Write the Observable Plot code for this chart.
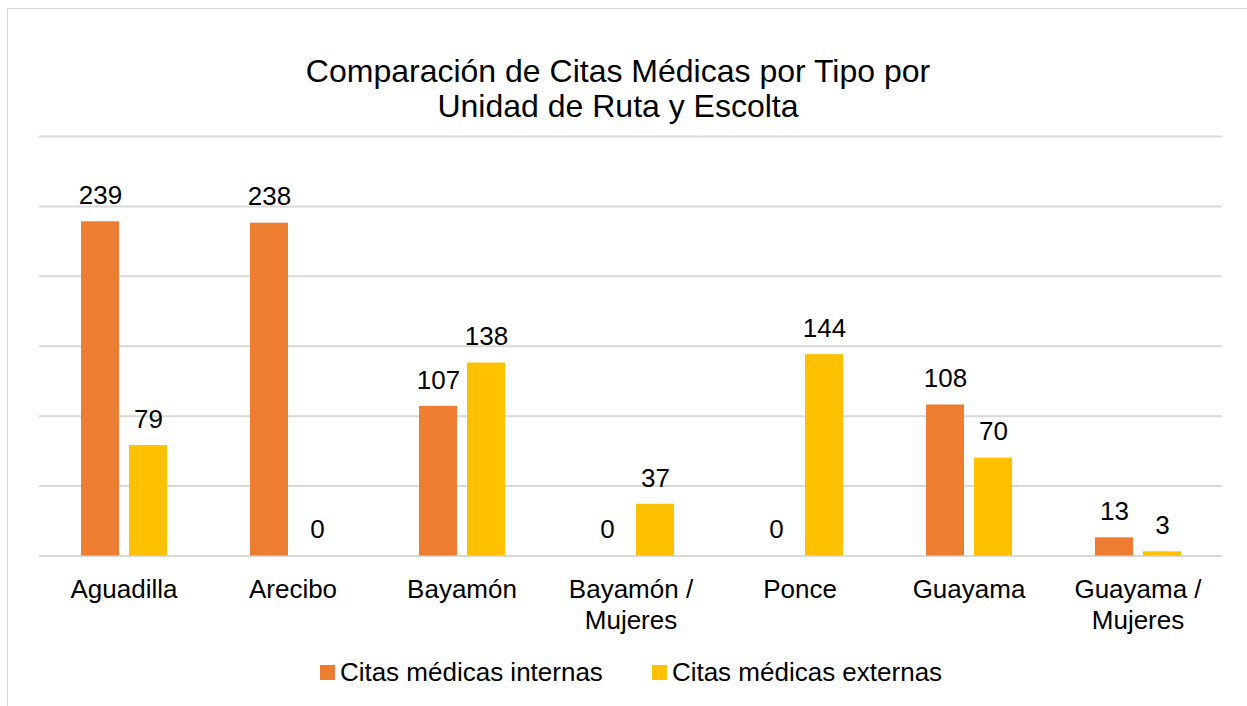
<!DOCTYPE html>
<html>
<head>
<meta charset="utf-8">
<script src="https://cdn.jsdelivr.net/npm/d3@7"></script>
<script src="https://cdn.jsdelivr.net/npm/@observablehq/plot@0.6"></script>
<style>
  body { margin: 0; background: #fff; font-family: "Liberation Sans", Arial, sans-serif; }
  #wrap { position: relative; width: 1247px; height: 706px; overflow: hidden; background: #fff; }
  #frame { position: absolute; left: 7px; top: 8px; width: 1300px; height: 800px; border: 1.5px solid #d9d9d9; }
  #title { position: absolute; left: 0; width: 1236px; top: 54px; text-align: center; font-size: 32px; line-height: 35px; color: #000; }
  #chart { position: absolute; left: 0; top: 100px; }
  #legend { position: absolute; left: 0; width: 1262px; top: 657px; display: flex; justify-content: center; align-items: center; font-size: 26px; color: #000; }
  .item { display: flex; align-items: center; }
  .sw { width: 15px; height: 15px; margin-right: 5px; }
</style>
</head>
<body>
<div id="wrap">
  <div id="frame"></div>
  <div id="title">Comparación de Citas Médicas por Tipo por<br>Unidad de Ruta y Escolta</div>
  <div id="chart"></div>
  <div id="legend"></div>
</div>
<script>
const categories = ["Aguadilla", "Arecibo", "Bayamón", "Bayamón / Mujeres", "Ponce", "Guayama", "Guayama / Mujeres"];
const tickLabels = ["Aguadilla", "Arecibo", "Bayamón", "Bayamón /\nMujeres", "Ponce", "Guayama", "Guayama /\nMujeres"];
const series = ["Citas médicas internas", "Citas médicas externas"];
const internas = [239, 238, 107, 0, 0, 108, 13];
const externas = [79, 0, 138, 37, 144, 70, 3];
const colors = ["#ED7D31", "#FFC000"];
const yTicks = [0, 50, 100, 150, 200, 250, 300];

const data = categories.flatMap((c, i) => [
  {cat: c, serie: series[0], value: internas[i]},
  {cat: c, serie: series[1], value: externas[i]}
]);

const chart = Plot.plot({
  width: 1247,
  height: 540,
  marginTop: 36,
  marginBottom: 84.5,
  marginLeft: 38,
  marginRight: 25,
  style: {fontFamily: "'Liberation Sans', Arial, sans-serif", fontSize: "26px", color: "#000", background: "transparent"},
  fx: {domain: categories, padding: 0, label: null},
  x: {domain: series, axis: null, paddingInner: 0.218, paddingOuter: 0.84},
  y: {domain: [0, 300], axis: null},
  color: {domain: series, range: colors},
  marks: [
    Plot.gridY(yTicks, {stroke: "#d9d9d9", strokeOpacity: 1, strokeWidth: 2}),
    Plot.barY(data, {fx: "cat", x: "serie", y: "value", fill: "serie"}),
    Plot.text(data, {fx: "cat", x: "serie", y: "value", text: d => String(d.value), lineAnchor: "bottom", dy: -17.7, fontSize: 26, fill: "#000"}),
    Plot.axisFx({anchor: "bottom", tickSize: 0, tickPadding: 20.3, fontSize: 26, lineHeight: 1.19, label: null, fill: "#000",
      tickFormat: d => tickLabels[categories.indexOf(d)]})
  ]
});
document.getElementById("chart").appendChild(chart);

const legend = document.getElementById("legend");
series.forEach((s, i) => {
  const item = document.createElement("div");
  item.className = "item";
  if (i > 0) item.style.marginLeft = "49px";
  const sw = document.createElement("div");
  sw.className = "sw";
  sw.style.background = colors[i];
  const t = document.createElement("span");
  t.textContent = s;
  item.appendChild(sw);
  item.appendChild(t);
  legend.appendChild(item);
});
</script>
</body>
</html>
